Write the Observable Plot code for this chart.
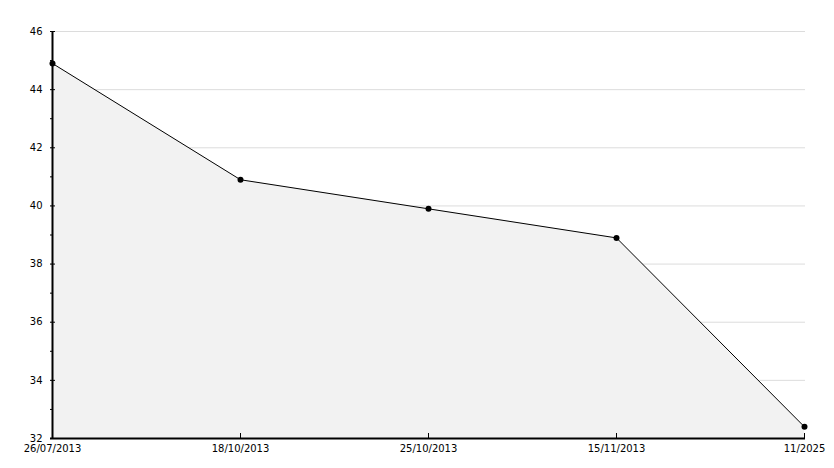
<!DOCTYPE html>
<html>
<head>
<meta charset="utf-8">
<script src="https://cdn.jsdelivr.net/npm/d3@7"></script>
<script src="https://cdn.jsdelivr.net/npm/@observablehq/plot@0.6"></script>
<style>
  body { margin: 0; background: #fff; }
  svg { font-family: "DejaVu Sans", sans-serif; }
</style>
</head>
<body>
<div id="chart"></div>
<script>
const dates = ["26/07/2013", "18/10/2013", "25/10/2013", "15/11/2013", "11/2025"];
const values = [44.9, 40.9, 39.9, 38.9, 32.4];
const majorTicks = [32, 34, 36, 38, 40, 42, 44, 46];
const minorTicks = [33, 35, 37, 39, 41, 43, 45];
const gridTicks = [34, 36, 38, 40, 42, 44, 46];

const data = dates.map((d, i) => ({date: d, value: values[i]}));

const chart = Plot.plot({
  width: 834,
  height: 468,
  marginLeft: 50,
  marginRight: 29,
  marginTop: 31,
  marginBottom: 30,
  style: {fontSize: "10px", fontFamily: "DejaVu Sans, sans-serif", color: "#000", background: "#fff"},
  x: {type: "point", domain: dates, padding: 0, label: null},
  y: {domain: [32, 46], label: null},
  marks: [
    Plot.ruleY(gridTicks, {stroke: "#dcdcdc", strokeWidth: 1}),
    Plot.areaY(data, {x: "date", y1: 32, y2: "value", fill: "#f2f2f2"}),
    Plot.line(data, {x: "date", y: "value", stroke: "#000", strokeWidth: 1}),
    Plot.dot(data, {x: "date", y: "value", r: 3, fill: "#000", stroke: "none"}),
    Plot.axisY({ticks: majorTicks, tickSize: -5, text: null, label: null, stroke: "#000"}),
    Plot.axisY({ticks: minorTicks, tickSize: -3, text: null, label: null, stroke: "#000"}),
    Plot.axisY({ticks: majorTicks, tickSize: 0, tickPadding: 8, label: null, fill: "#000", fontSize: 10}),
    Plot.axisX({ticks: dates, tickSize: -5, text: null, label: null, stroke: "#000"}),
    Plot.axisX({ticks: dates, tickSize: 0, tickPadding: 6, label: null, fill: "#000", fontSize: 10}),
    Plot.ruleX([dates[0]], {stroke: "#000", strokeWidth: 2}),
    Plot.ruleY([32], {stroke: "#000", strokeWidth: 2})
  ]
});
document.getElementById("chart").appendChild(chart);
</script>
</body>
</html>
